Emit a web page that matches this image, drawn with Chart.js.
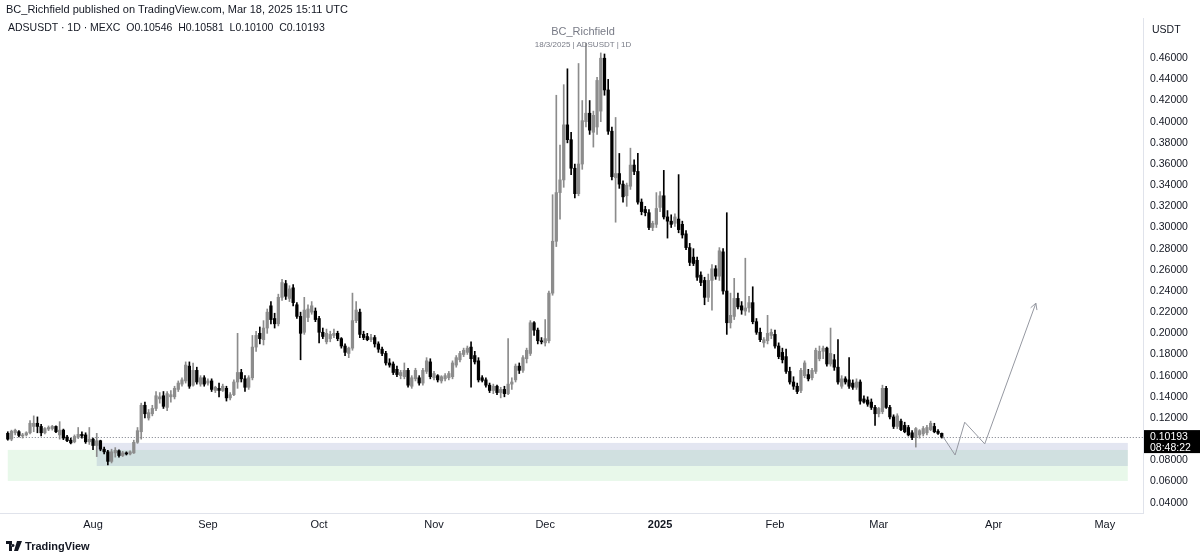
<!DOCTYPE html>
<html>
<head>
<meta charset="utf-8">
<script src="https://cdn.jsdelivr.net/npm/chart.js@4.4.1/dist/chart.umd.min.js"></script>
<style>
  body { margin: 0; width: 1200px; height: 558px; background: #fff; overflow: hidden; position: relative;
         font-family: "Liberation Sans", Arial, sans-serif; color: #131722; }
  #c { position: absolute; left: 0; top: 0; }
  .t { position: absolute; white-space: nowrap; }
</style>
</head>
<body>
<canvas id="c" width="1200" height="558"></canvas>
<div class="t" style="left:6px;top:3px;font-size:11px;">BC_Richfield published on TradingView.com, Mar 18, 2025 15:11 UTC</div>
<div class="t" style="left:8px;top:21px;font-size:10.5px;">ADSUSDT · 1D · MEXC &nbsp;O0.10546 &nbsp;H0.10581 &nbsp;L0.10100 &nbsp;C0.10193</div>
<div class="t" style="left:533px;top:25px;width:100px;text-align:center;font-size:11px;color:#787b86;">BC_Richfield</div>
<div class="t" style="left:513px;top:40px;width:140px;text-align:center;font-size:8px;color:#787b86;">18/3/2025 | ADSUSDT | 1D</div>
<div class="t" style="left:1152px;top:23px;font-size:10.5px;">USDT</div>
<div class="t" style="left:6px;top:540px;font-size:11px;font-weight:bold;">
  <svg width="16" height="10" viewBox="0 0 16 10" style="vertical-align:-1px"><path d="M0 0h6v10H3V3H0z M7 3a1.5 1.5 0 1 0 0.01 0z M11 0h5l-4 10H8z" fill="#131722"/></svg>
  TradingView</div>
<script>
// x = day index, 0 = 2024-07-09
const opens = [
  .1055,.1000,.1060,.1070,.1030,.1040,.1060,.1120,.1150,.1120,
  .1060,.1095,.1100,.1120,.1040,.1085,.1020,.0990,.0975,.1020,
  .1045,.1040,.0975,.1000,.0940,.0985,.0905,.0880,.0790,.0870,
  .0890,.0845,.0870,.0860,.0870,.0970,.1070,.1320,.1200,.1240,
  .1290,.1380,.1410,.1300,.1400,.1400,.1470,.1520,.1550,.1690,
  .1510,.1650,.1520,.1580,.1530,.1550,.1460,.1480,.1460,.1480,
  .1390,.1420,.1540,.1630,.1570,.1490,.1580,.1870,.2000,.1940,
  .2050,.2260,.2140,.2090,.2340,.2470,.2330,.2430,.2270,.2160,
  .2010,.2150,.2200,.2210,.2140,.2010,.1920,.1950,.1980,.2000,
  .1950,.1880,.1810,.1860,.2120,.2200,.1990,.1970,.1940,.1960,
  .1900,.1850,.1810,.1720,.1710,.1660,.1600,.1590,.1650,.1500,
  .1570,.1580,.1530,.1640,.1730,.1580,.1600,.1550,.1570,.1580,
  .1590,.1700,.1750,.1800,.1820,.1870,.1790,.1740,.1580,.1560,
  .1510,.1460,.1500,.1440,.1470,.1430,.1520,.1560,.1690,.1650,
  .1760,.1810,.2100,.2030,.1930,.1910,.1930,.2380,.2870,.3330,
  .3450,.3970,.3830,.3560,.3320,.3600,.4000,.4080,.3900,.3950,
  .4100,.4600,.4300,.3910,.3470,.3510,.3410,.3300,.3390,.3590,
  .3530,.3240,.3170,.3140,.3000,.3030,.3190,.3300,.3100,.3060,
  .3040,.3080,.3030,.2940,.2810,.2720,.2690,.2550,.2500,.2340,
  .2500,.2610,.2540,.2770,.2400,.2100,.2160,.2330,.2260,.2210,
  .2240,.2290,.2110,.2010,.1910,.1930,.1980,.1990,.1880,.1820,
  .1780,.1640,.1540,.1500,.1460,.1600,.1610,.1580,.1640,.1760,
  .1830,.1860,.1710,.1750,.1680,.1500,.1570,.1560,.1530,.1490,
  .1540,.1380,.1370,.1350,.1300,.1240,.1260,.1480,.1300,.1210,
  .1120,.1170,.1130,.1110,.1060,.1015,.1040,.1050,.1060,.1090,
  .1120,.1075,.10546
];
const highs = [
  .1070,.1085,.1095,.1080,.1055,.1070,.1175,.1220,.1210,.1140,
  .1110,.1125,.1130,.1125,.1165,.1095,.1035,.1010,.1040,.1110,
  .1070,.1060,.1110,.1010,.1055,.0990,.0925,.0895,.0905,.0920,
  .0900,.0885,.0880,.0890,.0990,.1110,.1340,.1350,.1280,.1320,
  .1450,.1440,.1450,.1450,.1460,.1500,.1550,.1580,.1730,.1730,
  .1720,.1680,.1600,.1600,.1570,.1570,.1500,.1530,.1520,.1500,
  .1440,.1560,.2000,.1660,.1600,.1600,.1980,.2020,.2060,.2120,
  .2230,.2300,.2190,.2370,.2510,.2500,.2450,.2460,.2290,.2200,
  .2340,.2270,.2300,.2240,.2160,.2050,.2040,.2020,.2040,.2020,
  .1960,.1900,.1870,.2380,.2300,.2230,.2020,.2000,.1990,.1980,
  .1920,.1870,.1830,.1760,.1730,.1690,.1650,.1720,.1670,.1600,
  .1670,.1600,.1670,.1770,.1760,.1640,.1610,.1600,.1620,.1640,
  .1740,.1790,.1830,.1860,.1880,.1920,.1830,.1770,.1600,.1580,
  .1530,.1520,.1510,.1490,.1500,.1950,.1580,.1710,.1720,.1790,
  .1860,.2120,.2110,.2050,.1960,.2130,.2400,.3310,.4250,.3780,
  .4350,.4500,.3900,.3600,.4550,.4200,.4740,.4200,.4100,.4420,
  .4650,.4640,.4400,.3950,.4040,.3700,.3440,.3420,.3750,.3640,
  .3700,.3270,.3200,.3170,.3060,.3330,.3340,.3540,.3160,.3120,
  .3130,.3500,.3060,.2970,.2850,.2800,.2720,.2580,.2530,.2560,
  .2650,.2640,.2810,.2800,.3140,.2380,.2520,.2380,.2300,.2710,
  .2350,.2440,.2140,.2050,.1960,.2170,.2040,.2030,.1910,.1860,
  .1850,.1680,.1590,.1530,.1670,.1740,.1660,.1670,.1860,.1880,
  .1880,.1870,.2050,.1800,.1940,.1600,.1590,.1770,.1560,.1570,
  .1560,.1410,.1400,.1380,.1320,.1300,.1510,.1500,.1320,.1230,
  .1240,.1190,.1160,.1130,.1080,.1110,.1090,.1120,.1130,.1170,
  .1150,.1090,.10581
];
const lows = [
  .0990,.0985,.1040,.1020,.1010,.1030,.1050,.1070,.1060,.1030,
  .1050,.1080,.1085,.1060,.1000,.0995,.0975,.0955,.0965,.1005,
  .1010,.0960,.0950,.0900,.0835,.0890,.0860,.0756,.0775,.0830,
  .0830,.0835,.0850,.0850,.0865,.0960,.1000,.1200,.1180,.1220,
  .1270,.1340,.1290,.1270,.1350,.1380,.1450,.1500,.1530,.1480,
  .1500,.1520,.1500,.1500,.1510,.1450,.1440,.1400,.1450,.1360,
  .1370,.1410,.1480,.1540,.1450,.1470,.1560,.1830,.1900,.1890,
  .2000,.2090,.2050,.2070,.2310,.2320,.2300,.2260,.2140,.1750,
  .1990,.2110,.2180,.2110,.1910,.1950,.1900,.1920,.1960,.1930,
  .1860,.1790,.1770,.1840,.2100,.1960,.1940,.1930,.1920,.1870,
  .1820,.1790,.1700,.1680,.1610,.1590,.1570,.1570,.1490,.1480,
  .1550,.1510,.1510,.1620,.1570,.1560,.1540,.1530,.1550,.1560,
  .1570,.1680,.1730,.1780,.1800,.1490,.1710,.1540,.1540,.1490,
  .1440,.1430,.1420,.1390,.1400,.1420,.1470,.1540,.1620,.1630,
  .1720,.1790,.1980,.1900,.1900,.1880,.1910,.2360,.2820,.3080,
  .3380,.3800,.3500,.3280,.3300,.3550,.3950,.3880,.3760,.3880,
  .4000,.4250,.3880,.3450,.3050,.3370,.3240,.3200,.3360,.3500,
  .3220,.3120,.3110,.2980,.2970,.3000,.3150,.3080,.2900,.3000,
  .3010,.2950,.2900,.2790,.2640,.2640,.2500,.2450,.2270,.2300,
  .2220,.2510,.2500,.2370,.1990,.2050,.2130,.2230,.2180,.2170,
  .2200,.2090,.1990,.1920,.1870,.1900,.1950,.1860,.1760,.1720,
  .1620,.1520,.1470,.1430,.1440,.1580,.1550,.1560,.1620,.1740,
  .1760,.1690,.1690,.1650,.1520,.1480,.1520,.1480,.1470,.1470,
  .1330,.1340,.1310,.1280,.1130,.1210,.1240,.1290,.1190,.1100,
  .1100,.1080,.1060,.1030,.0995,.0925,.1010,.1030,.1040,.1080,
  .1060,.1045,.10100
];
const closes = [
  .1000,.1075,.1085,.1035,.1040,.1060,.1150,.1150,.1120,.1060,
  .1100,.1110,.1120,.1070,.1085,.1010,.0985,.0965,.1025,.1045,
  .1030,.0975,.1000,.0940,.0985,.0905,.0880,.0790,.0880,.0895,
  .0845,.0870,.0860,.0880,.0970,.1080,.1320,.1240,.1250,.1290,
  .1410,.1400,.1310,.1430,.1420,.1480,.1530,.1560,.1700,.1500,
  .1650,.1540,.1580,.1520,.1550,.1470,.1490,.1460,.1500,.1390,
  .1420,.1540,.1630,.1570,.1490,.1580,.1870,.1980,.1950,.2050,
  .2200,.2130,.2090,.2340,.2480,.2350,.2420,.2290,.2160,.2000,
  .2220,.2230,.2260,.2130,.2010,.1970,.2000,.1990,.2000,.1950,
  .1880,.1820,.1860,.2120,.2220,.1990,.1960,.1940,.1960,.1900,
  .1850,.1810,.1720,.1700,.1630,.1610,.1630,.1650,.1510,.1580,
  .1650,.1530,.1650,.1740,.1590,.1620,.1560,.1590,.1600,.1620,
  .1720,.1770,.1810,.1840,.1860,.1760,.1730,.1560,.1555,.1510,
  .1460,.1500,.1440,.1470,.1430,.1520,.1540,.1690,.1650,.1770,
  .1840,.2100,.2030,.1930,.1920,.1950,.2380,.2870,.3330,.3450,
  .3970,.3830,.3560,.3320,.3600,.4010,.4080,.3920,.4060,.4390,
  .4600,.4300,.3910,.3480,.3510,.3410,.3290,.3400,.3590,.3530,
  .3240,.3150,.3140,.3000,.3040,.3180,.3300,.3100,.3060,.3030,
  .3100,.2980,.2930,.2810,.2670,.2660,.2530,.2480,.2340,.2500,
  .2610,.2540,.2780,.2400,.2100,.2170,.2330,.2250,.2220,.2240,
  .2290,.2110,.2010,.1940,.1940,.2000,.2010,.1880,.1780,.1750,
  .1640,.1540,.1500,.1450,.1650,.1720,.1570,.1650,.1840,.1830,
  .1860,.1710,.1810,.1680,.1540,.1570,.1540,.1500,.1490,.1540,
  .1360,.1350,.1330,.1300,.1240,.1290,.1480,.1300,.1210,.1120,
  .1220,.1090,.1070,.1040,.1015,.1100,.1080,.1100,.1110,.1150,
  .1070,.1055,.10193
];

// month ticks (day index) and their labels
const monthDays = [23, 54, 84, 115, 145, 176, 207, 235, 266, 296];
const monthLabels = ['Aug', 'Sep', 'Oct', 'Nov', 'Dec', '2025', 'Feb', 'Mar', 'Apr', 'May'];
const priceTicks = [0.04, 0.06, 0.08, 0.12, 0.14, 0.16, 0.18, 0.20, 0.22, 0.24, 0.26, 0.28,
                    0.30, 0.32, 0.34, 0.36, 0.38, 0.40, 0.42, 0.44, 0.46];

// drawn projection path (day index / price)
const pathDays   = [252.3, 255.6, 258.2, 263.6, 277.4];
const pathPrices = [0.1025, 0.0850, 0.1160, 0.0955, 0.2285];

// support zones: [fromDay, toDay, bottom, top]
const greenZone = [0, 302.2, 0.0605, 0.0898];
const blueZone  = [24, 302.2, 0.0746, 0.0964];

const lastPrice = closes[closes.length - 1];
const countdown = '08:48:22';

const UP = '#8c8c8c';
const DOWN = '#000000';

const days = closes.map((_, i) => i);
const candleColors = days.map(i => closes[i] >= opens[i] ? UP : DOWN);

const overlay = {
    id: 'overlay',
    beforeDatasetsDraw(chart) {
        const { ctx, scales: { x, y } } = chart;
        ctx.save();
        const box = (z, color) => {
            const x0 = x.getPixelForValue(z[0]), x1 = x.getPixelForValue(z[1]);
            const y0 = y.getPixelForValue(z[3]), y1 = y.getPixelForValue(z[2]);
            ctx.fillStyle = color;
            ctx.fillRect(x0, y0, x1 - x0, y1 - y0);
        };
        box(greenZone, 'rgba(76, 200, 90, 0.13)');
        box(blueZone, 'rgba(80, 100, 170, 0.16)');

        // dotted last price line
        const py = Math.round(y.getPixelForValue(lastPrice)) + 0.5;
        ctx.strokeStyle = '#787b86';
        ctx.lineWidth = 1;
        ctx.setLineDash([1, 2]);
        ctx.beginPath();
        ctx.moveTo(x.getPixelForValue(0), py);
        ctx.lineTo(chart.chartArea.right, py);
        ctx.stroke();
        ctx.restore();
    },
    afterDatasetsDraw(chart) {
        // arrow head at the end of the projection path
        const { ctx, scales: { x, y } } = chart;
        const n = pathDays.length;
        const ax = x.getPixelForValue(pathDays[n - 1]), ay = y.getPixelForValue(pathPrices[n - 1]);
        const bx = x.getPixelForValue(pathDays[n - 2]), by = y.getPixelForValue(pathPrices[n - 2]);
        const ang = Math.atan2(ay - by, ax - bx);
        ctx.save();
        ctx.strokeStyle = '#9598a1';
        ctx.lineWidth = 1;
        ctx.beginPath();
        ctx.moveTo(ax - 7 * Math.cos(ang - 0.5), ay - 7 * Math.sin(ang - 0.5));
        ctx.lineTo(ax, ay);
        ctx.lineTo(ax - 7 * Math.cos(ang + 0.5), ay - 7 * Math.sin(ang + 0.5));
        ctx.stroke();
        ctx.restore();
    },
    afterDraw(chart) {
        // price label on the axis
        const { ctx, scales: { y } } = chart;
        const py = y.getPixelForValue(lastPrice);
        ctx.save();
        ctx.fillStyle = '#000';
        ctx.fillRect(y.left + 1, py - 7, y.right - y.left - 1, 23);
        ctx.fillStyle = '#fff';
        ctx.font = '10.5px "Liberation Sans", Arial, sans-serif';
        ctx.textBaseline = 'middle';
        ctx.fillText(lastPrice.toFixed(5), y.left + 7, py + 0.5);
        ctx.fillText(countdown, y.left + 7, py + 11);
        ctx.restore();
    }
};

new Chart(document.getElementById('c'), {
    type: 'bar',
    data: {
        datasets: [
            {
                label: 'wick',
                data: days.map(i => ({ x: i, y: [lows[i], highs[i]] })),
                backgroundColor: candleColors,
                barThickness: 1,
                grouped: false,
                order: 2,
            },
            {
                label: 'body',
                data: days.map(i => ({ x: i, y: [opens[i], closes[i]] })),
                backgroundColor: candleColors,
                barThickness: 2.6,
                minBarLength: 1,
                grouped: false,
                order: 1,
            },
            {
                type: 'line',
                label: 'path',
                data: pathDays.map((d, i) => ({ x: d, y: pathPrices[i] })),
                borderColor: '#9598a1',
                borderWidth: 1,
                pointRadius: 0,
                tension: 0,
                order: 0,
            },
        ],
    },
    options: {
        responsive: false,
        animation: false,
        devicePixelRatio: 1,
        layout: { padding: { left: 0, right: 0, top: 18, bottom: 23 } },
        scales: {
            x: {
                type: 'linear',
                min: -2.1,
                max: 306.3,
                offset: false,
                grid: { display: false, drawTicks: false },
                border: { display: true, color: '#e0e3eb' },
                afterBuildTicks: s => { s.ticks = monthDays.map(v => ({ value: v })); },
                afterFit: s => { s.height = 22; },
                ticks: {
                    autoSkip: false,
                    maxRotation: 0,
                    padding: 5,
                    color: '#131722',
                    font: ctx => ({ size: 11, family: '"Liberation Sans", Arial, sans-serif',
                                    weight: ctx.index === 5 ? 'bold' : 'normal' }),
                    callback: (v, i) => monthLabels[i],
                },
            },
            y: {
                type: 'linear',
                position: 'right',
                min: 0.0302,
                max: 0.498,
                beginAtZero: false,
                grid: { display: false, drawTicks: false },
                border: { display: true, color: '#e0e3eb' },
                afterBuildTicks: s => { s.ticks = priceTicks.map(v => ({ value: v })); },
                afterFit: s => { s.width = 57; },
                ticks: {
                    padding: 7,
                    color: '#131722',
                    font: { size: 10.5, family: '"Liberation Sans", Arial, sans-serif' },
                    callback: v => v.toFixed(5),
                },
            },
        },
        plugins: {
            legend: { display: false },
            tooltip: { enabled: false },
            title: { display: false },
        },
    },
    plugins: [overlay],
});
</script>
</body>
</html>
